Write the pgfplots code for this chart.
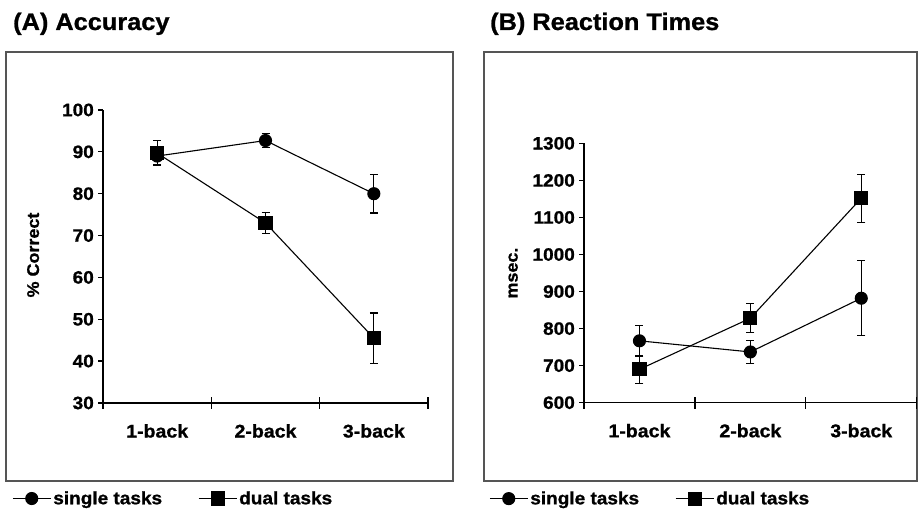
\documentclass[border=0pt]{standalone}
\usepackage{fontspec}
\setmainfont{Liberation Sans}[FakeStretch=1.06, BoldFeatures={FakeBold=1}]
\usepackage{pgfplots}
\pgfplotsset{compat=1.18}
\definecolor{framegray}{HTML}{555555}
\pgfplotsset{
  nback/.style={
    scale only axis, clip=false,
    axis x line=bottom, axis y line=left,
    axis line style={-, line width=1.3bp, black},
    xmin=0.5, xmax=3.5,
    xtick={1,2,3}, xticklabels={1-back,2-back,3-back},
    minor xtick={0.5,1.5,2.5,3.5},
    tick align=outside,
    major tick length=5bp, minor tick length=12bp,
    major x tick style={draw=none},
    minor x tick style={yshift=6bp, line width=1.3bp, black},
    major y tick style={line width=1.3bp, black},
    /pgf/number format/assume math mode=true,
    /pgf/number format/1000 sep={},
    yticklabel style={font=\bfseries\fontsize{18}{20}\selectfont, inner sep=0pt, xshift=-4bp},
    xticklabel style={font=\bfseries\fontsize{18.5}{20}\selectfont, inner sep=0pt, yshift=-16bp},
    ylabel style={font=\bfseries\fontsize{17}{19}\selectfont, anchor=center},
    legend columns=2,
    legend style={draw=none, fill=none, anchor=west, inner sep=0pt,
      font=\bfseries\fontsize{18}{20}\selectfont,
      nodes={inner sep=2bp},
      /tikz/every even column/.append style={column sep=34bp}},
    legend image code/.code={\draw[mark repeat=2,mark phase=2,#1] plot coordinates {(0bp,0bp)(19bp,0bp)(38bp,0bp)};},
  },
  single/.style={black, line width=1.1bp, mark=*, mark size=6bp, mark options={solid, fill=black},
    error bars/.cd, y dir=both, y explicit,
    error bar style={line width=1.1bp, black},
    error mark options={rotate=90, mark size=4bp, line width=1.1bp, black}},
  dual/.style={black, line width=1.1bp, mark=square*, mark size=6.5bp, mark options={solid, fill=black},
    error bars/.cd, y dir=both, y explicit,
    error bar style={line width=1.1bp, black},
    error mark options={rotate=90, mark size=4bp, line width=1.1bp, black}},
}
\begin{document}
\begin{tikzpicture}[x=1bp,y=1bp]
\useasboundingbox (0,0) rectangle (918,509);
% frames
\draw[framegray, line width=1.3bp] (6,28) rectangle (453,457);
\draw[framegray, line width=1.3bp] (484,28) rectangle (917,457);
% titles
\node[anchor=base west, inner sep=0pt, font=\bfseries\fontsize{24}{28}\selectfont] at (13,479) {(A) Accuracy};
\node[anchor=base west, inner sep=0pt, font=\bfseries\fontsize{24}{28}\selectfont] at (490,479) {(B) Reaction Times};

\begin{axis}[nback, at={(103bp,106bp)}, anchor=south west,
  width=325bp, height=293bp,
  ymin=30, ymax=100, ytick={30,40,...,100},
  ylabel={\% Correct},
  ylabel style={at={(axis description cs:-0.215,0.505)}},
  legend style={at={(axis description cs:-0.28,-0.326)}}]
\addplot+[single] coordinates {(1,89) +- (0,2) (2,92.7) +- (0,1.6) (3,80) +- (0,4.6)};
\addlegendentry{single tasks}
\addplot+[dual] coordinates {(1,89.7) +- (0,3) (2,73) +- (0,2.5) (3,45.5) +- (0,6)};
\addlegendentry{dual tasks}
\end{axis}

\begin{axis}[nback, at={(584bp,106.3bp)}, anchor=south west,
  width=332.7bp, height=259.3bp,
  ymin=600, ymax=1300, ytick={600,700,...,1300},
  ylabel={msec.},
  ylabel style={at={(axis description cs:-0.213,0.50)}},
  legend style={at={(axis description cs:-0.2855,-0.37)}}]
\addplot+[single] coordinates {(1,767) +- (0,42) (2,737) +- (0,30) (3,882) +- (0,101)};
\addlegendentry{single tasks}
\addplot+[dual] coordinates {(1,690) +- (0,37) (2,828) +- (0,39) (3,1152) +- (0,65)};
\addlegendentry{dual tasks}
\end{axis}
\end{tikzpicture}
\end{document}
